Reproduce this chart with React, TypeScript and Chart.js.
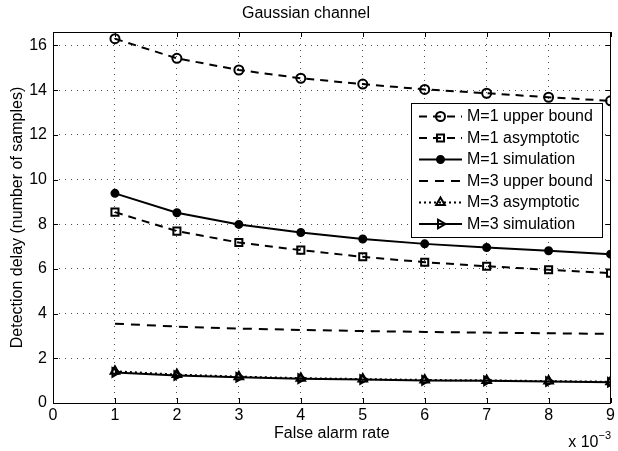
import React, { useEffect, useRef } from 'react';
import { Chart, registerables } from 'chart.js';

Chart.register(...registerables);

// ---- data ----
const xValues = [1, 2, 3, 4, 5, 6, 7, 8, 9];
const m1Upper = [16.3, 15.42, 14.9, 14.53, 14.27, 14.03, 13.86, 13.68, 13.52];
const m1Asym = [8.54, 7.69, 7.18, 6.84, 6.54, 6.3, 6.12, 5.96, 5.81];
const m1Sim = [9.38, 8.51, 7.99, 7.63, 7.34, 7.12, 6.96, 6.81, 6.66];
const m3Upper = [3.55, 3.42, 3.33, 3.27, 3.22, 3.18, 3.15, 3.12, 3.09];
const m3Asym = [1.42, 1.27, 1.18, 1.11, 1.07, 1.03, 1.01, 0.98, 0.95];
const m3Sim = [1.37, 1.23, 1.15, 1.09, 1.05, 1.01, 0.99, 0.96, 0.93];
const seriesLabels = [
  'M=1 upper bound',
  'M=1 asymptotic',
  'M=1 simulation',
  'M=3 upper bound',
  'M=3 asymptotic',
  'M=3 simulation',
];
const seriesValues = [m1Upper, m1Asym, m1Sim, m3Upper, m3Asym, m3Sim];
const titleText = 'Gaussian channel';
const xTitle = 'False alarm rate';
const yTitle = 'Detection delay (number of samples)';
const xExponentBase = 'x 10';
const xExponent = '\u22123';

// ---- styles ----
const FONT = "'Liberation Sans', Arial, Helvetica, sans-serif";
const seriesStyles = [
  { dash: [8, 6], point: 'circle', radius: 4.5, rotation: 0, fill: 'rgba(0,0,0,0)' },
  { dash: [8, 6], point: 'rect', radius: 5, rotation: 0, fill: 'rgba(0,0,0,0)' },
  { dash: [], point: 'circle', radius: 3.5, rotation: 0, fill: '#000' },
  { dash: [9, 7], point: false, radius: 0, rotation: 0, fill: 'rgba(0,0,0,0)' },
  { dash: [2, 3], point: 'triangle', radius: 5, rotation: 0, fill: 'rgba(0,0,0,0)' },
  { dash: [], point: 'triangle', radius: 5, rotation: 90, fill: 'rgba(0,0,0,0)' },
];

function drawMarker(ctx: CanvasRenderingContext2D, style: any, x: number, y: number, r: number, rotationDeg: number, fill: string) {
  if (!style || r <= 0) return;
  ctx.save();
  ctx.setLineDash([]);
  ctx.lineWidth = 2;
  ctx.strokeStyle = '#000';
  ctx.fillStyle = fill;
  ctx.beginPath();
  if (style === 'circle') {
    ctx.arc(x, y, r, 0, Math.PI * 2);
  } else if (style === 'rect') {
    const s = r * Math.SQRT1_2;
    ctx.rect(x - s, y - s, 2 * s, 2 * s);
  } else if (style === 'triangle') {
    let rad = (rotationDeg * Math.PI) / 180;
    ctx.moveTo(x + Math.sin(rad) * r, y - Math.cos(rad) * r);
    rad += (2 * Math.PI) / 3;
    ctx.lineTo(x + Math.sin(rad) * r, y - Math.cos(rad) * r);
    rad += (2 * Math.PI) / 3;
    ctx.lineTo(x + Math.sin(rad) * r, y - Math.cos(rad) * r);
    ctx.closePath();
  }
  ctx.fill();
  ctx.stroke();
  ctx.restore();
}

const TICK = 5;

const matlabPlugin = {
  id: 'matlabDecor',
  afterDraw(chart: any) {
    const { ctx, chartArea: a, scales } = chart;
    const xs = scales.x;
    const ys = scales.y;
    ctx.save();
    ctx.setLineDash([]);
    ctx.strokeStyle = '#000';
    ctx.lineWidth = 1;
    // inward tick marks
    ctx.beginPath();
    xs.ticks.forEach((t: any) => {
      const px = Math.round(xs.getPixelForValue(t.value)) + 0.5;
      ctx.moveTo(px, a.bottom);
      ctx.lineTo(px, a.bottom - TICK);
      ctx.moveTo(px, a.top);
      ctx.lineTo(px, a.top + TICK);
    });
    ys.ticks.forEach((t: any) => {
      const py = Math.round(ys.getPixelForValue(t.value)) + 0.5;
      ctx.moveTo(a.left, py);
      ctx.lineTo(a.left + TICK, py);
      ctx.moveTo(a.right, py);
      ctx.lineTo(a.right - TICK, py);
    });
    ctx.stroke();
    // frame
    ctx.strokeRect(Math.round(a.left) + 0.5, Math.round(a.top) + 0.5, Math.round(a.right - a.left) - 1, Math.round(a.bottom - a.top));

    // legend
    const L = Math.round(a.right) - 200;
    const T = Math.round(a.top) + 71;
    const W = 191;
    const H = 134;
    ctx.fillStyle = '#fff';
    ctx.fillRect(L, T, W, H);
    ctx.strokeRect(L + 0.5, T + 0.5, W, H);
    seriesLabels.forEach((label, i) => {
      const st = seriesStyles[i];
      const cy = T + 13.5 + i * 21.5;
      ctx.save();
      ctx.lineWidth = 2;
      ctx.strokeStyle = '#000';
      ctx.setLineDash(st.dash);
      ctx.beginPath();
      ctx.moveTo(L + 8, cy);
      ctx.lineTo(L + 51, cy);
      ctx.stroke();
      ctx.restore();
      drawMarker(ctx, st.point, L + 29.5, cy, st.radius, st.rotation, st.fill);
      ctx.fillStyle = '#000';
      ctx.font = `16px ${FONT}`;
      ctx.textAlign = 'left';
      ctx.textBaseline = 'middle';
      ctx.fillText(label, L + 56, cy + 0.5);
    });

    // exponent label
    ctx.fillStyle = '#000';
    ctx.textAlign = 'right';
    ctx.textBaseline = 'alphabetic';
    ctx.font = `11px ${FONT}`;
    const expW = ctx.measureText(xExponent).width;
    ctx.fillText(xExponent, Math.round(a.right), 439);
    ctx.font = `16px ${FONT}`;
    ctx.fillText(xExponentBase, Math.round(a.right) - expW, 447);
    ctx.restore();
  },
};

export default function App() {
  const canvasRef = useRef<HTMLCanvasElement | null>(null);

  useEffect(() => {
    const canvas = canvasRef.current;
    if (!canvas) return;
    Chart.defaults.font.family = FONT;
    Chart.defaults.font.size = 16;
    Chart.defaults.color = '#000';

    const datasets = seriesValues.map((vals, i) => {
      const st = seriesStyles[i];
      return {
        label: seriesLabels[i],
        data: xValues.map((x, k) => ({ x, y: vals[k] })),
        borderColor: '#000',
        borderWidth: 2,
        borderDash: st.dash,
        fill: false,
        tension: 0,
        pointStyle: st.point as any,
        pointRadius: st.radius,
        pointRotation: st.rotation,
        pointBorderWidth: 2,
        pointBorderColor: '#000',
        pointBackgroundColor: st.fill,
        order: seriesValues.length - i,
      };
    });

    const chart = new Chart(canvas, {
      type: 'line',
      data: { datasets },
      plugins: [matlabPlugin],
      options: {
        animation: false,
        responsive: false,
        events: [],
        layout: { padding: { left: 0, right: 6, top: 0, bottom: 0 } },
        plugins: {
          legend: { display: false },
          tooltip: { enabled: false },
          title: {
            display: true,
            text: titleText,
            color: '#000',
            font: { size: 16, weight: 'normal', family: FONT },
            padding: { top: 4.4, bottom: 8.4 },
          },
        },
        scales: {
          x: {
            type: 'linear',
            min: 0,
            max: 9,
            afterFit: (s: any) => {
              s.height = 48;
            },
            ticks: { stepSize: 1, padding: 3, color: '#000', font: { size: 16 }, maxRotation: 0 },
            grid: { display: true, color: 'rgba(0,0,0,0.7)', lineWidth: 1, drawTicks: false },
            border: { display: false, dash: [1, 5] },
            title: { display: true, text: xTitle, color: '#000', font: { size: 16 }, padding: { top: 0, bottom: 7.4 } },
          },
          y: {
            type: 'linear',
            min: 0,
            max: 16.6,
            afterFit: (s: any) => {
              s.width = 53;
            },
            ticks: { stepSize: 2, includeBounds: false, padding: 6, color: '#000', font: { size: 16 } },
            grid: { display: true, color: 'rgba(0,0,0,0.7)', lineWidth: 1, drawTicks: false },
            border: { display: false, dash: [1, 5] },
            title: { display: true, text: yTitle, color: '#000', font: { size: 16 }, padding: { top: 8.4, bottom: 0 } },
          },
        },
      },
    });
    return () => chart.destroy();
  }, []);

  return (
    <div style={{ position: 'fixed', left: 0, top: 0, width: 618, height: 451, background: '#fff' }}>
      <canvas ref={canvasRef} width={618} height={451} style={{ width: 618, height: 451, display: 'block' }} />
    </div>
  );
}
